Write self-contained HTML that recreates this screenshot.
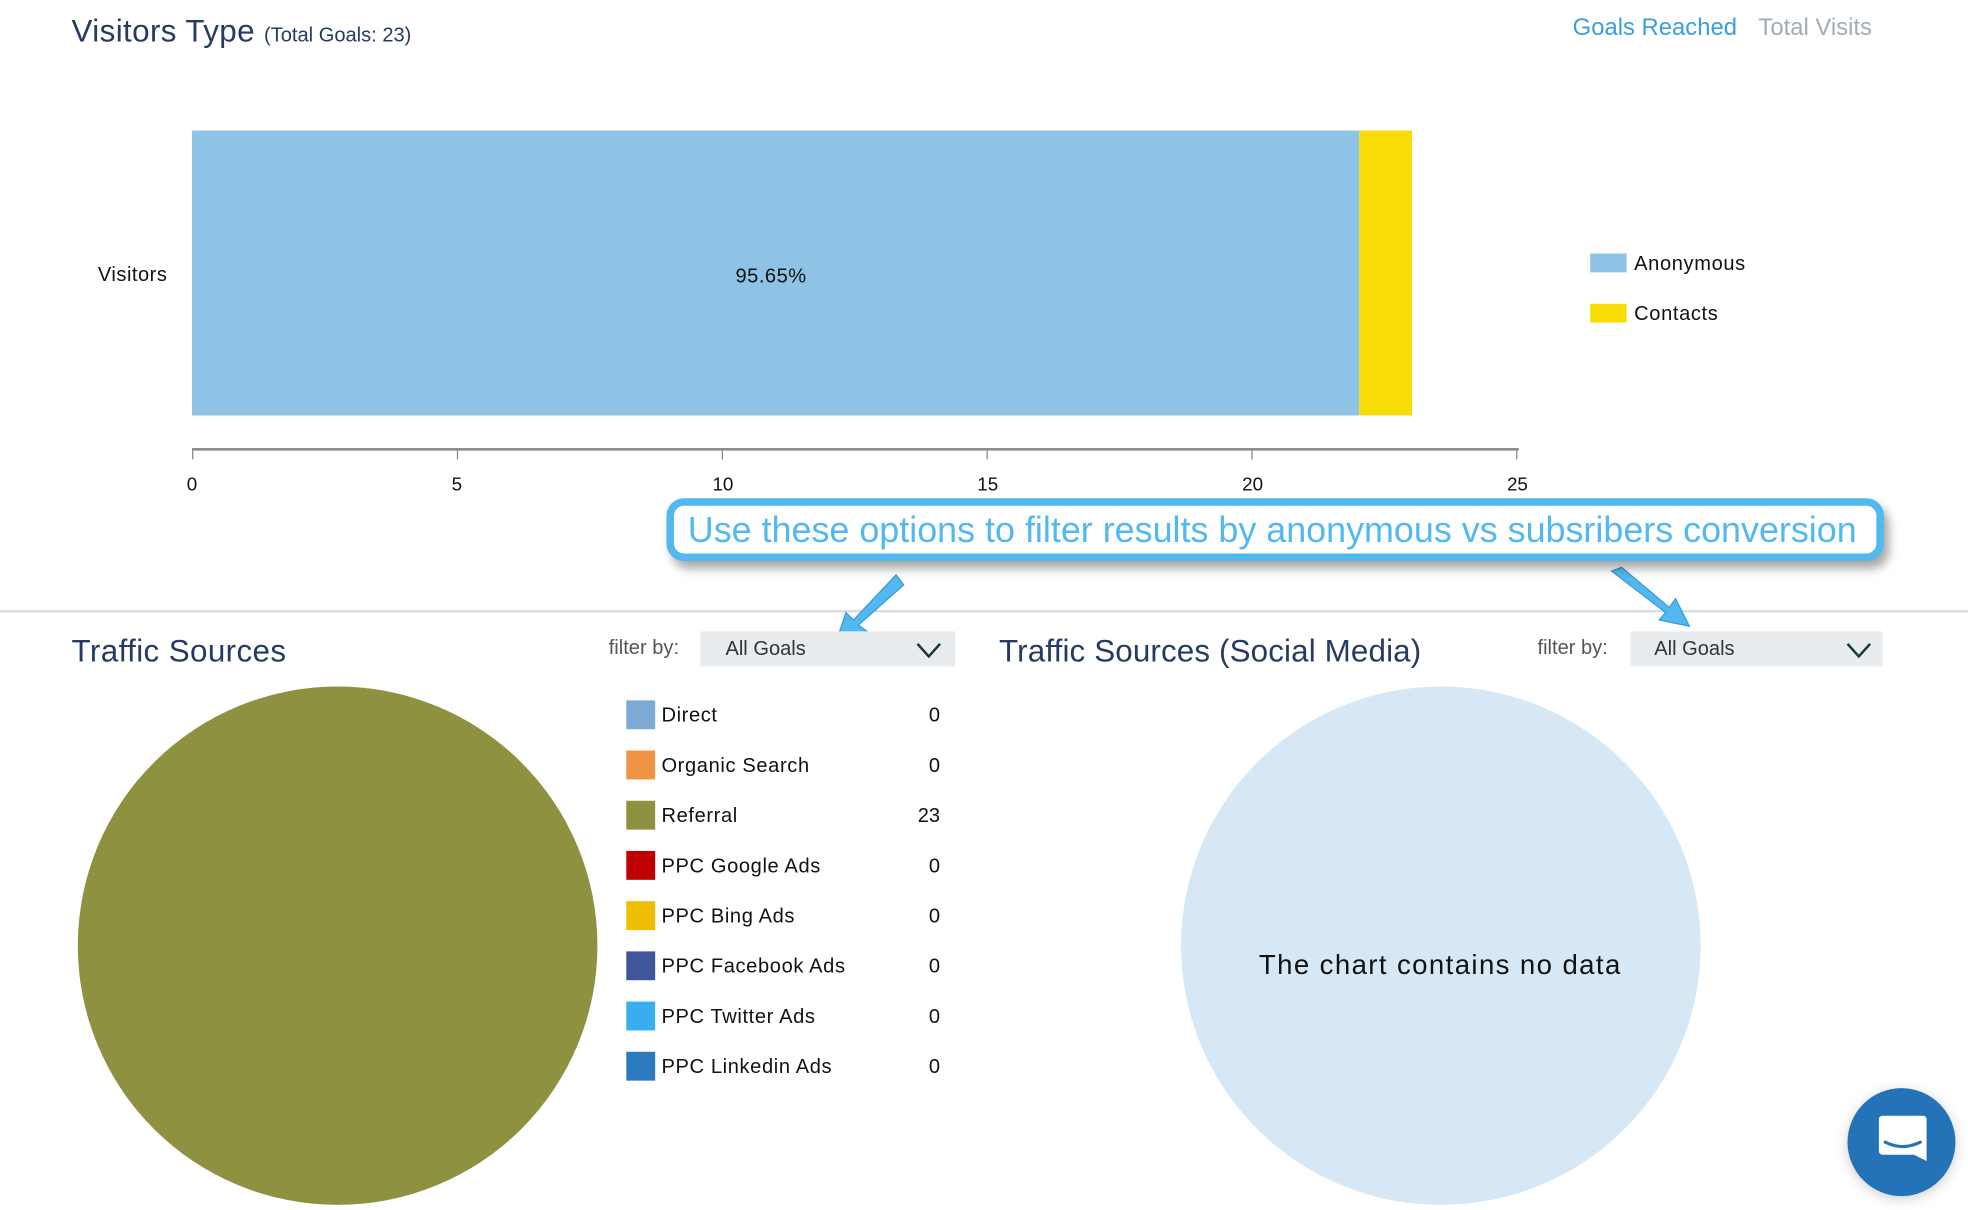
<!DOCTYPE html>
<html><head><meta charset="utf-8"><style>
html,body{margin:0;padding:0;background:#fff;width:1968px;height:1210px;overflow:hidden}
#s{position:absolute;left:0;top:0;width:1568px;height:964px;transform:scale(1.2551);transform-origin:0 0;font-family:"Liberation Sans",sans-serif}
.a{position:absolute;white-space:nowrap}
.h{color:#253b63;font-size:25px}
.lg{position:absolute;left:499px;width:23px;height:23px}
.lt{position:absolute;left:527px;font-size:16px;color:#111;line-height:20px;letter-spacing:0.5px}
.lv{position:absolute;left:700px;width:49px;text-align:right;font-size:16px;color:#111;line-height:20px}
.tk{position:absolute;top:378px;width:40px;margin-left:-20px;text-align:center;font-size:15px;color:#111}
.dd{position:absolute;top:503px;height:28px;background:#e9ecef}
</style></head><body><div id="s">
<div class="a h" style="left:57px;top:11px;font-size:25px;letter-spacing:0.3px">Visitors Type <span style="font-size:16px;letter-spacing:0">(Total Goals: 23)</span></div>
<div class="a" style="left:1253px;top:12px;font-size:19px;color:#3b9ee0">Goals Reached</div>
<div class="a" style="left:1401px;top:12px;font-size:19px;color:#a3abb6">Total Visits</div>
<div class="a" style="left:153px;top:104px;width:930px;height:227px;background:#8fc3e5"></div>
<div class="a" style="left:1083px;top:104px;width:42px;height:227px;background:#f8dc05"></div>
<div class="a" style="left:78px;top:211px;font-size:16px;color:#111;letter-spacing:0.4px">Visitors</div>
<div class="a" style="left:586px;top:212px;font-size:16px;color:#111;letter-spacing:0.4px">95.65%</div>
<div class="a" style="left:153px;top:357px;width:1057px;height:1.5px;background:#888"></div>
<div class="a" style="left:153px;top:358px;width:1px;height:8px;background:#888"></div>
<div class="a" style="left:364px;top:358px;width:1px;height:8px;background:#888"></div>
<div class="a" style="left:575px;top:358px;width:1px;height:8px;background:#888"></div>
<div class="a" style="left:786px;top:358px;width:1px;height:8px;background:#888"></div>
<div class="a" style="left:997px;top:358px;width:1px;height:8px;background:#888"></div>
<div class="a" style="left:1208px;top:358px;width:1px;height:8px;background:#888"></div>
<div class="tk" style="left:153px">0</div><div class="tk" style="left:364px">5</div><div class="tk" style="left:576px">10</div><div class="tk" style="left:787px">15</div><div class="tk" style="left:998px">20</div><div class="tk" style="left:1209px">25</div>
<div class="a" style="left:1267px;top:202px;width:29px;height:15px;background:#8fc3e5"></div>
<div class="a" style="left:1302px;top:202px;font-size:16px;color:#111;letter-spacing:0.5px">Anonymous</div>
<div class="a" style="left:1267px;top:242px;width:29px;height:15px;background:#f8dc05"></div>
<div class="a" style="left:1302px;top:242px;font-size:16px;color:#111;letter-spacing:0.5px">Contacts</div>
<div class="a" style="left:0;top:486px;width:1568px;height:2px;background:#d8dde3"></div>
<svg class="a" style="left:0;top:0" width="1568" height="964">
<g fill="#52b8f0" stroke="#3a9bd4" stroke-width="1">
<path d="M714 458 L720 466 L684 498 L692 504 L666 512 L674 488 L680 494 Z"/>
<path d="M1284 455 L1292 452 L1330 484 L1335 477 L1346 499 L1322 494 L1327 488 Z"/>
</g></svg>
<div class="a" style="left:531px;top:397px;width:958px;height:38px;border:6px solid #52b8f0;border-radius:14px;background:#fff;box-shadow:4px 6px 8px rgba(0,0,0,.35)"></div>
<div class="a" style="left:548px;top:407px;font-size:28.6px;color:#52b8f0">Use these options to filter results by anonymous vs subsribers conversion</div>
<div class="a h" style="left:57px;top:505px;letter-spacing:0.3px">Traffic Sources</div>
<div class="a" style="left:485px;top:508px;font-size:16px;color:#555">filter by:</div>
<div class="dd" style="left:558px;width:203px"></div>
<div class="a" style="left:578px;top:509px;font-size:16px;color:#333">All Goals</div>
<svg class="a" style="left:729px;top:510px" width="22" height="16"><path d="M2 3 L11 13 L20 3" fill="none" stroke="#1d3a3a" stroke-width="2"/></svg>
<div class="a h" style="left:796px;top:505px;letter-spacing:0.1px">Traffic Sources (Social Media)</div>
<div class="a" style="left:1225px;top:508px;font-size:16px;color:#555">filter by:</div>
<div class="dd" style="left:1299px;width:201px"></div>
<div class="a" style="left:1318px;top:509px;font-size:16px;color:#333">All Goals</div>
<svg class="a" style="left:1470px;top:510px" width="22" height="16"><path d="M2 3 L11 13 L20 3" fill="none" stroke="#1d3a3a" stroke-width="2"/></svg>
<div class="a" style="left:62px;top:547px;width:414px;height:413px;border-radius:50%;background:#8e9140"></div>
<div class="a" style="left:941px;top:547px;width:414px;height:413px;border-radius:50%;background:#d6e8f6"></div>
<div class="a" style="left:1003px;top:756px;font-size:22px;color:#111;letter-spacing:1.1px">The chart contains no data</div>
<div class="lg" style="top:558px;background:#7daad4"></div><div class="lt" style="top:561px">Direct</div><div class="lv" style="top:561px">0</div>
<div class="lg" style="top:598px;background:#ee9444"></div><div class="lt" style="top:601px">Organic Search</div><div class="lv" style="top:601px">0</div>
<div class="lg" style="top:638px;background:#8e9140"></div><div class="lt" style="top:641px">Referral</div><div class="lv" style="top:641px">23</div>
<div class="lg" style="top:678px;background:#c00000"></div><div class="lt" style="top:681px">PPC Google Ads</div><div class="lv" style="top:681px">0</div>
<div class="lg" style="top:718px;background:#f0be00"></div><div class="lt" style="top:721px">PPC Bing Ads</div><div class="lv" style="top:721px">0</div>
<div class="lg" style="top:758px;background:#3f569b"></div><div class="lt" style="top:761px">PPC Facebook Ads</div><div class="lv" style="top:761px">0</div>
<div class="lg" style="top:798px;background:#3aacf0"></div><div class="lt" style="top:801px">PPC Twitter Ads</div><div class="lv" style="top:801px">0</div>
<div class="lg" style="top:838px;background:#2a7bbd"></div><div class="lt" style="top:841px">PPC Linkedin Ads</div><div class="lv" style="top:841px">0</div>
<div class="a" style="left:1472px;top:867px;width:86px;height:86px;border-radius:50%;background:#2472b8;box-shadow:0 2px 10px rgba(0,0,0,.2)"></div>
<svg class="a" style="left:1493px;top:887px" width="46" height="46"><path d="M4 5 Q4 2 7 2 L39 2 Q42 2 42 5 L42 38 L32 33 L7 33 Q4 33 4 30 Z" fill="#fff"/><path d="M9 23 Q23 30 37 23" fill="none" stroke="#2472b8" stroke-width="2.5" stroke-linecap="round"/></svg>
</div></body></html>
